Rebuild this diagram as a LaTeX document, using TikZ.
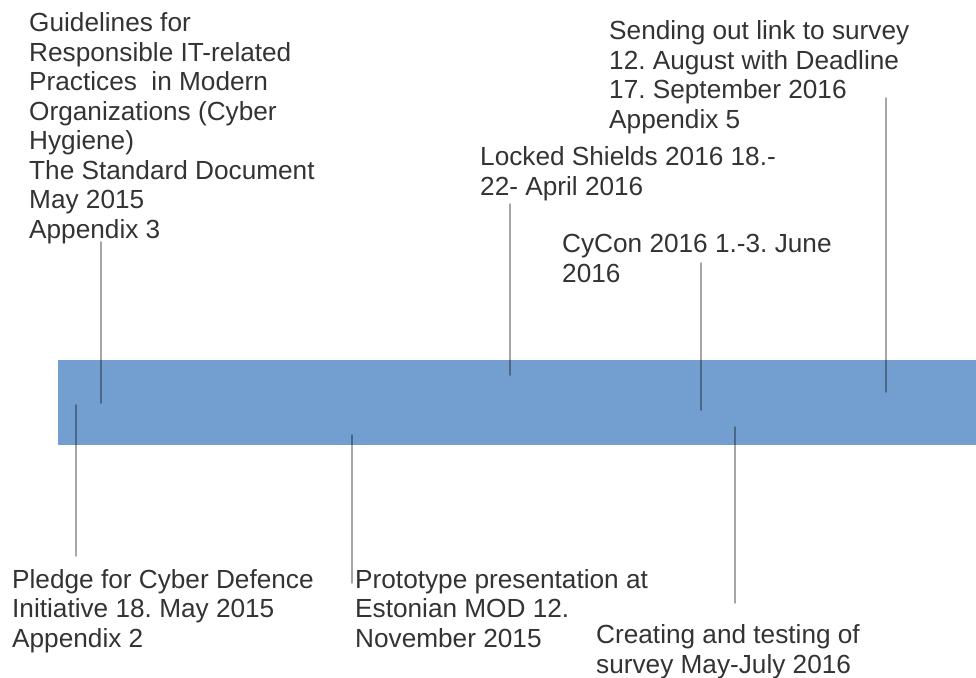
\documentclass[tikz,border=0pt]{standalone}
\usepackage{fontspec}
\setmainfont{Liberation Sans}
\usepackage{tikz}
\usetikzlibrary{positioning}
\definecolor{barblue}{RGB}{114,159,207}
\definecolor{textgray}{RGB}{51,51,51}
\tikzset{eventtext/.style={inner sep=0pt,anchor=base west,align=left,text=textgray,
    font=\fontsize{26.2}{29.5}\selectfont\frenchspacing},
  tickline/.style={draw=black,draw opacity=0.35,line width=1.6pt}}

\begin{document}
\begin{tikzpicture}[x=1pt,y=-1pt,line cap=round]
    \useasboundingbox (0,0) rectangle (976,677);

	% the time bar
	\fill [barblue] (58,360) rectangle (976,445);

	% events above the bar (placed at the baseline of the last line)
	\node (gl) [eventtext] at (29,238) {Guidelines for\\Responsible IT-related\\Practices\ \ in Modern\\Organizations (Cyber\\Hygiene)\\The Standard Document\\May 2015\\Appendix 3};
	\node (ls) [eventtext] at (480,195) {Locked Shields 2016 18.-\\22- April 2016};
	\node (cc) [eventtext] at (562,282) {CyCon 2016 1.-3. June\\2016};
	\node (so) [eventtext] at (609,128) {Sending out link to survey\\12. August with Deadline\\17. September 2016\\Appendix 5};

	% events below the bar
	\node (pl) [eventtext] at (12,647) {Pledge for Cyber Defence\\Initiative 18. May 2015\\Appendix 2};
	\node (pp) [eventtext] at (355,647) {Prototype presentation at\\Estonian MOD 12.\\November 2015};
	\node (ct) [eventtext] at (596,673) {Creating and testing of\\survey May-July 2016};

	% ticks
	\coordinate (gl-a) at (101,242);  \coordinate (gl-b) at (101,403);
	\coordinate (ls-a) at (510,204);  \coordinate (ls-b) at (510,375);
	\coordinate (cc-a) at (701,263);  \coordinate (cc-b) at (701,410);
	\coordinate (so-a) at (886,98);   \coordinate (so-b) at (886,392);
	\coordinate (pl-a) at (76,405);   \coordinate (pl-b) at (76,556);
	\coordinate (pp-a) at (352,435);  \coordinate (pp-b) at (352,583);
	\coordinate (ct-a) at (735,427);  \coordinate (ct-b) at (735,603);

	\draw [tickline] (gl-a) -- (gl-b);
	\draw [tickline] (ls-a) -- (ls-b);
	\draw [tickline] (cc-a) -- (cc-b);
	\draw [tickline] (so-a) -- (so-b);
	\draw [tickline] (pl-a) -- (pl-b);
	\draw [tickline] (pp-a) -- (pp-b);
	\draw [tickline] (ct-a) -- (ct-b);

\end{tikzpicture}
\end{document}
